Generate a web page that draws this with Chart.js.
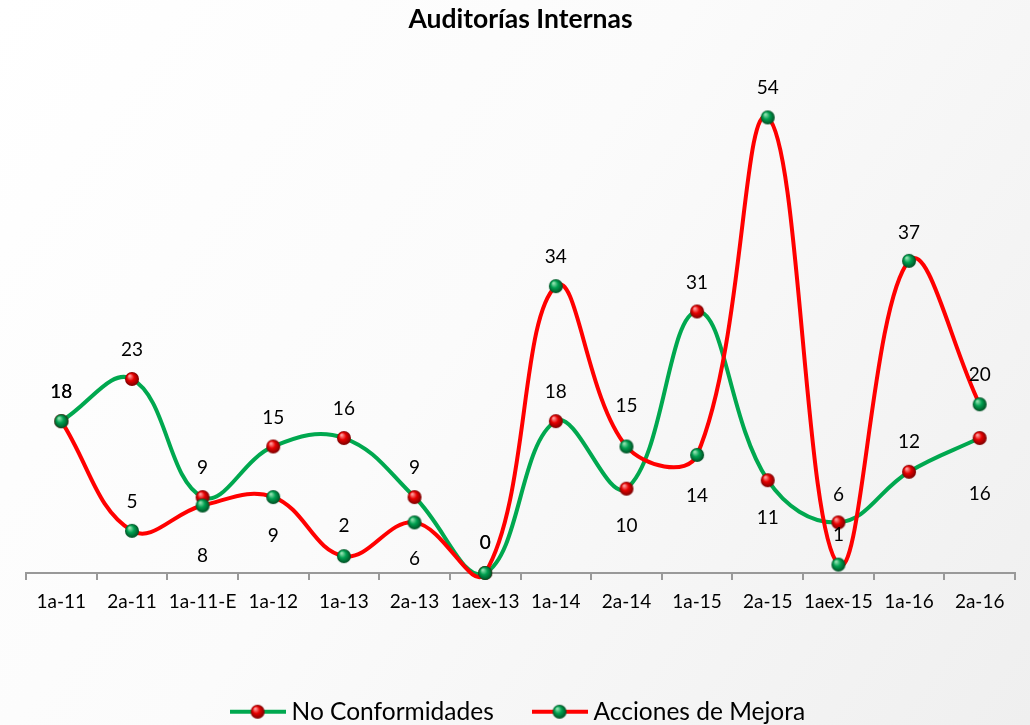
<!DOCTYPE html>
<html><head><meta charset="utf-8">
<script src="https://cdn.jsdelivr.net/npm/chart.js@4"></script>
<style>html,body{margin:0;padding:0;background:#fff;overflow:hidden;} #wrap{width:1030px;height:725px;position:relative;}</style>
</head><body><div id="wrap"><canvas id="c"></canvas></div>
<script>
const categories = ['1a-11','2a-11','1a-11-E','1a-12','1a-13','2a-13','1aex-13','1a-14','2a-14','1a-15','2a-15','1aex-15','1a-16','2a-16'];
const noConformidades = [18,23,9,15,16,9,0,18,10,31,11,6,12,16];
const accionesMejora = [18,5,8,9,2,6,0,34,15,14,54,1,37,20];
const seriesNames = ['No Conformidades','Acciones de Mejora'];
const chartTitle = 'Auditorías Internas';
// label placement (pixel offsets from the point, negative = above)
const ncLabelOffsets = [-29,-29,-29,-29,-29,-29,-30,-29,37,-29,38,-28,-30,56];
const amLabelOffsets = [-29,-29,50,39,-30,36,-30,-29,-41,41,-30,-30,-28,-29];

const GREEN = '#00a84f', RED = '#ff0000', AXIS = '#999999';

function sphere(r, light, mid, dark){
  const s = r*2+2, c = document.createElement('canvas'); c.width = s; c.height = s;
  const g = c.getContext('2d'), cx = s/2, cy = s/2;
  const gr = g.createRadialGradient(cx-r*0.35, cy-r*0.45, r*0.1, cx, cy, r);
  gr.addColorStop(0, light); gr.addColorStop(0.45, mid); gr.addColorStop(1, dark);
  g.fillStyle = gr; g.beginPath(); g.arc(cx, cy, r, 0, Math.PI*2); g.fill();
  return c;
}
const redBall = sphere(7, '#ff9a9a', '#e60000', '#7a0000');
const greenBall = sphere(7, '#8fe0ae', '#00a050', '#004d22');

function legendImg(lineColor, ball){
  const w = 56, h = 16, c = document.createElement('canvas'); c.width = w; c.height = h;
  const g = c.getContext('2d');
  g.strokeStyle = lineColor; g.lineWidth = 4; g.beginPath(); g.moveTo(0, h/2); g.lineTo(w, h/2); g.stroke();
  g.drawImage(ball, (w-ball.width)/2, (h-ball.height)/2);
  return c;
}
const legendImgs = [legendImg(GREEN, redBall), legendImg(RED, greenBall)];

const background = {
  id: 'background',
  beforeDraw(chart){
    const {ctx, width, height} = chart;
    ctx.save();
    const g = ctx.createLinearGradient(0, 0, width, height);
    g.addColorStop(0, '#ffffff'); g.addColorStop(0.45, '#fbfbfb'); g.addColorStop(1, '#efefef');
    ctx.fillStyle = g; ctx.fillRect(0, 0, width, height);
    ctx.restore();
  }
};

const valueLabels = {
  id: 'valueLabels',
  afterDatasetsDraw(chart){
    const ctx = chart.ctx;
    ctx.save();
    ctx.font = '19px Lato'; ctx.fillStyle = '#000'; ctx.textAlign = 'center'; ctx.textBaseline = 'middle';
    chart.data.datasets.forEach((ds, i) => {
      const meta = chart.getDatasetMeta(i);
      meta.data.forEach((pt, j) => ctx.fillText(String(ds.data[j]), pt.x, pt.y + ds.labelOffsets[j]));
    });
    ctx.restore();
  }
};

new Chart(document.getElementById('c'), {
  type: 'line',
  data: {
    labels: categories,
    datasets: [
      { label: seriesNames[0], data: noConformidades, borderColor: GREEN, borderWidth: 4,
        pointStyle: redBall, pointRadius: 7, tension: 0.4, clip: false, order: 1, labelOffsets: ncLabelOffsets },
      { label: seriesNames[1], data: accionesMejora, borderColor: RED, borderWidth: 4,
        pointStyle: greenBall, pointRadius: 7, tension: 0.4, clip: false, order: 0, labelOffsets: amLabelOffsets }
    ]
  },
  options: {
    responsive: true, maintainAspectRatio: false, animation: false,
    layout: { padding: { left: 26, right: 15, top: 0, bottom: -9 } },
    elements: { line: { capBezierPoints: false } },
    plugins: {
      tooltip: { enabled: false },
      title: { display: true, text: chartTitle, color: '#000',
        font: { family: 'Lato', size: 26.5, weight: 'bold' }, padding: { top: 4, bottom: 31 } },
      legend: { position: 'bottom',
        labels: { usePointStyle: true, pointStyleWidth: 43.5, padding: 44, color: '#000',
          font: { family: 'Lato', size: 24.5 },
          generateLabels(chart){
            const items = Chart.defaults.plugins.legend.labels.generateLabels(chart);
            items.forEach(it => { it.pointStyle = legendImgs[it.datasetIndex]; });
            return items.sort((a,b) => a.datasetIndex - b.datasetIndex);
          } } }
    },
    scales: {
      y: { display: false, min: 0, max: 60 },
      x: { offset: true,
        grid: { drawOnChartArea: false, drawTicks: true, tickLength: 7, color: AXIS, lineWidth: 2, offset: true },
        border: { display: true, color: AXIS, width: 2 },
        ticks: { color: '#000', font: { family: 'Lato', size: 19 }, padding: 10, maxRotation: 0, autoSkip: false },
        afterFit(scale){ scale.height = 82.5; } }
    }
  },
  plugins: [background, valueLabels]
});
</script></body></html>
